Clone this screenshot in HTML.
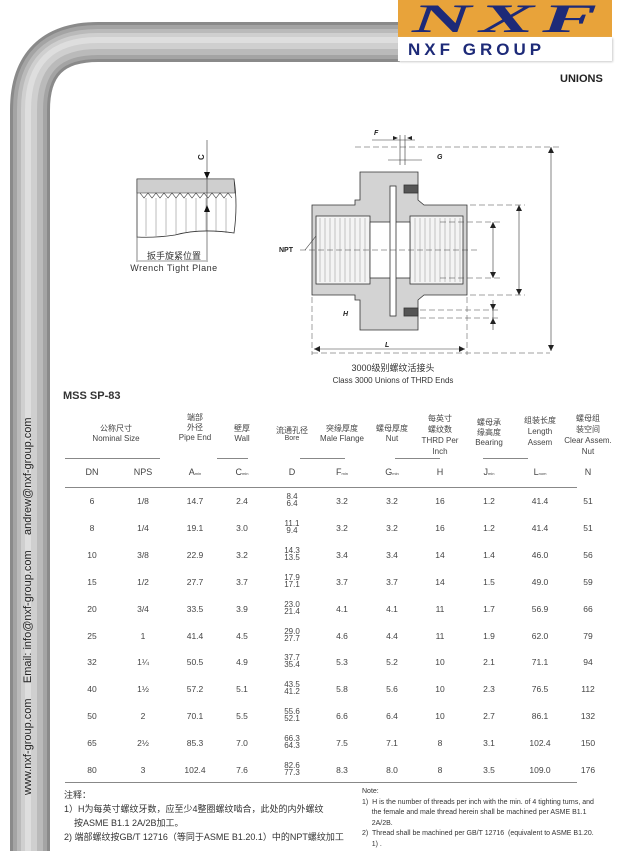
<!DOCTYPE html>
<html><head><meta charset="utf-8">
<style>
*{margin:0;padding:0}
body{width:633px;height:851px;position:relative;background:#fff;overflow:hidden;font-family:"Liberation Sans","Noto Sans CJK SC",sans-serif;color:#333}
.a{position:absolute;white-space:nowrap}
.c{position:absolute;white-space:nowrap;transform:translateX(-50%);text-align:center}
.hd{font-size:8px;line-height:10px;color:#444}
.cell{font-size:8.5px;color:#444}
.dd{font-size:8px;line-height:7px;color:#444}
.hl{position:absolute;height:1px;background:#888}
sub{font-size:4px;vertical-align:baseline}
</style></head><body>
<svg class="a" style="left:0;top:0" width="633" height="851">
<g fill="none">
<path d="M30 851 L30 110 Q30 42 98 42 L400 42" stroke="#8a8a8a" stroke-width="40"/>
<path d="M30 851 L30 110 Q30 42 98 42 L400 42" stroke="#a4a4a4" stroke-width="34"/>
<path d="M30 851 L30 110 Q30 42 98 42 L400 42" stroke="#bababa" stroke-width="26"/>
<path d="M29 851 L29 110 Q29 41 98 41 L400 41" stroke="#cfcfcf" stroke-width="16"/>
<path d="M28 851 L28 110 Q28 40 98 40 L400 40" stroke="#dedede" stroke-width="6"/>
</g>
<path d="M137 179 L234 179 Q238 205 234 233 Q200 228 175 235 Q155 238 137 237 Z" fill="#fff" stroke="#333" stroke-width="0.8"/>
<path d="M137 179 L234 179 L235 193 L137 193 Z" fill="#cfcfcf" stroke="#333" stroke-width="0.6"/>
<path d="M140 193 l4 5 4 -5 4 5 4 -5 4 5 4 -5 4 5 4 -5 4 5 4 -5 4 5 4 -5 4 5 4 -5 4 5 4 -5 4 5 4 -5 4 5 4 -5 4 5 4 -5 4 5" fill="none" stroke="#333" stroke-width="0.6"/>
<g stroke="#555" stroke-width="0.4"><line x1="146" y1="198" x2="146" y2="236"/><line x1="156" y1="198" x2="156" y2="236"/><line x1="166" y1="198" x2="166" y2="235"/><line x1="176" y1="198" x2="176" y2="234"/><line x1="186" y1="198" x2="186" y2="232"/><line x1="196" y1="198" x2="196" y2="231"/><line x1="206" y1="198" x2="206" y2="231"/><line x1="216" y1="198" x2="216" y2="232"/><line x1="226" y1="198" x2="226" y2="233"/></g>
<line x1="207" y1="140" x2="207" y2="262" stroke="#333" stroke-width="0.6"/>
<line x1="137" y1="237" x2="137" y2="262" stroke="#333" stroke-width="0.6"/>
<path d="M204 172 L207 179 L210 172Z M204 212 L207 205 L210 212Z" fill="#111"/>
<line x1="138" y1="261" x2="206" y2="261" stroke="#333" stroke-width="0.6"/>
<text x="204" y="160" font-size="8" font-weight="bold" fill="#222" transform="rotate(-90 204 160)">C</text>
<g stroke="#333" stroke-width="0.8">
<path d="M312 205 L355 205 L355 200 L360 200 L360 172 L418 172 L418 200 L424 205 L467 205 L467 295 L424 295 L418 300 L418 330 L360 330 L360 300 L355 300 L355 295 L312 295 Z" fill="#d3d3d3"/>
<rect x="316" y="216" width="54" height="68" fill="#f4f4f4"/>
<rect x="410" y="216" width="53" height="68" fill="#f4f4f4"/>
<rect x="370" y="222" width="40" height="56" fill="#fff"/>
<rect x="390" y="186" width="6" height="130" fill="#fff"/>
<rect x="404" y="185" width="14" height="8" fill="#555"/>
<rect x="404" y="308" width="14" height="8" fill="#555"/>
</g>
<g stroke="#666" stroke-width="0.35">
<line x1="320" y1="218" x2="320" y2="282"/><line x1="325" y1="218" x2="325" y2="282"/><line x1="330" y1="218" x2="330" y2="282"/><line x1="335" y1="218" x2="335" y2="282"/><line x1="340" y1="218" x2="340" y2="282"/><line x1="345" y1="218" x2="345" y2="282"/><line x1="350" y1="218" x2="350" y2="282"/><line x1="355" y1="218" x2="355" y2="282"/><line x1="360" y1="218" x2="360" y2="282"/><line x1="365" y1="218" x2="365" y2="282"/>
<line x1="415" y1="218" x2="415" y2="282"/><line x1="420" y1="218" x2="420" y2="282"/><line x1="425" y1="218" x2="425" y2="282"/><line x1="430" y1="218" x2="430" y2="282"/><line x1="435" y1="218" x2="435" y2="282"/><line x1="440" y1="218" x2="440" y2="282"/><line x1="445" y1="218" x2="445" y2="282"/><line x1="450" y1="218" x2="450" y2="282"/><line x1="455" y1="218" x2="455" y2="282"/><line x1="460" y1="218" x2="460" y2="282"/>
</g>
<g stroke="#444" stroke-width="0.5" fill="none" stroke-dasharray="6 3">
<line x1="300" y1="250" x2="480" y2="250"/>
<line x1="355" y1="147" x2="560" y2="147"/>
<line x1="312" y1="297" x2="312" y2="355"/>
<line x1="467" y1="297" x2="467" y2="355"/>
<line x1="470" y1="205" x2="525" y2="205"/><line x1="470" y1="295" x2="525" y2="295"/>
<line x1="440" y1="222" x2="500" y2="222"/><line x1="440" y1="278" x2="500" y2="278"/>
<line x1="420" y1="310" x2="500" y2="310"/><line x1="420" y1="318" x2="500" y2="318"/>
<line x1="312" y1="353" x2="550" y2="353"/>
</g>
<g stroke="#333" stroke-width="0.6">
<line x1="400" y1="135" x2="400" y2="165"/><line x1="405" y1="135" x2="405" y2="165"/>
<line x1="388" y1="160" x2="422" y2="160"/><line x1="372" y1="140" x2="415" y2="140"/>
<line x1="493" y1="222" x2="493" y2="278"/><line x1="519" y1="205" x2="519" y2="295"/>
<line x1="551" y1="147" x2="551" y2="351"/><line x1="493" y1="300" x2="493" y2="330"/>
<line x1="314" y1="349" x2="465" y2="349"/><line x1="305" y1="250" x2="316" y2="236"/>
</g>
<path d="M398 138 l-5 -2 0 4Z M407 138 l5 -2 0 4Z M548 153 L551 147 L554 153Z M548 345 L551 351 L554 345Z M490 228 L493 222 L496 228Z M490 272 L493 278 L496 272Z M516 211 L519 205 L522 211Z M516 289 L519 295 L522 289Z M320 346 L314 349 L320 352Z M459 346 L465 349 L459 352Z M490 304 l3 6 3 -6Z M490 324 l3 -6 3 6Z" fill="#222"/>
<g font-size="7" font-weight="bold" font-style="italic" fill="#222">
<text x="374" y="135">F</text><text x="437" y="159">G</text><text x="343" y="316">H</text><text x="385" y="347">L</text>
<text x="279" y="252" font-style="normal">NPT</text>
</g>
</svg>
<div class="a" style="left:22px;top:795px;transform:rotate(-90deg);transform-origin:0 0;font-size:11px;line-height:13px;color:#222">www.nxf-group.com&nbsp;&nbsp;&nbsp;&nbsp;&nbsp;Email: info@nxf-group.com&nbsp;&nbsp;&nbsp;&nbsp;&nbsp;andrew@nxf-group.com</div>
<div class="a" style="left:398px;top:0;width:214px;height:37px;background:#e8a33a;overflow:hidden"><div class="a" style="left:14px;top:0;font-family:'Liberation Serif',serif;font-size:40px;font-weight:bold;font-style:italic;color:#1d2a78;letter-spacing:4px;line-height:37px;transform:scaleX(2.05);transform-origin:0 0">NXF</div></div>
<div class="a" style="left:398px;top:37px;width:214px;height:24px;background:#fff;box-shadow:1px 1px 2px #ccc"></div>
<div class="a" style="left:408px;top:40px;font-size:17px;font-weight:bold;color:#1d2a78;letter-spacing:4px">NXF GROUP</div>
<div class="a" style="left:560px;top:73px;font-size:11px;font-weight:bold;color:#222">UNIONS</div>
<div class="c" style="left:174px;top:250px;font-size:9px;color:#333;line-height:12px">扳手旋紧位置<br><span style="letter-spacing:.5px">Wrench Tight Plane</span></div>
<div class="c" style="left:393px;top:362px;font-size:9px;color:#333;line-height:12px">3000级别螺纹活接头<br><span style="font-size:8px">Class 3000 Unions of THRD Ends</span></div>
<div class="a" style="left:63px;top:390px;font-size:11px;font-weight:bold;color:#333">MSS SP-83</div>
<div class="c hd" style="left:116px;top:424px">公称尺寸<br>Nominal Size</div>
<div class="c hd" style="left:195px;top:413px">端部<br>外径<br>Pipe End</div>
<div class="c hd" style="left:242px;top:424px">壁厚<br>Wall</div>
<div class="c hd" style="left:292px;top:426px">流通孔径</div><div class="c hd" style="left:292px;top:434px;font-size:7px">Bore</div>
<div class="c hd" style="left:342px;top:424px">突缘厚度<br>Male Flange</div>
<div class="c hd" style="left:392px;top:424px">螺母厚度<br>Nut</div>
<div class="c hd" style="left:440px;top:413px;line-height:11px">每英寸<br>螺纹数<br>THRD Per<br>Inch</div>
<div class="c hd" style="left:489px;top:418px">螺母承<br>缘高度<br>Bearing</div>
<div class="c hd" style="left:540px;top:415px;line-height:11px">组装长度<br>Length<br>Assem</div>
<div class="c hd" style="left:588px;top:413px;line-height:11px">螺母组<br>装空间<br>Clear Assem.<br>Nut</div>
<div class="hl" style="left:65px;top:458px;width:95px"></div>
<div class="hl" style="left:217px;top:458px;width:31px"></div>
<div class="hl" style="left:300px;top:458px;width:45px"></div>
<div class="hl" style="left:395px;top:458px;width:45px"></div>
<div class="hl" style="left:483px;top:458px;width:45px"></div>
<div class="hl" style="left:65px;top:487px;width:512px"></div>
<div class="hl" style="left:65px;top:782px;width:512px"></div>
<div id="t"></div>
<div class="a" style="left:64px;top:788px;font-size:9px;line-height:14px;color:#333">注释：<br>1）H为每英寸螺纹牙数，应至少4整圈螺纹啮合，此处的内外螺纹<br>&nbsp;&nbsp;&nbsp;&nbsp;按ASME B1.1 2A/2B加工。<br>2) 端部螺纹按GB/T 12716（等同于ASME B1.20.1）中的NPT螺纹加工</div>
<div class="a" style="left:362px;top:787px;font-size:7px;line-height:10.5px;color:#333">Note:<br>1)&nbsp; H is the number of threads per inch with the min. of 4 tighting turns, and<br>&nbsp;&nbsp;&nbsp;&nbsp; the female and male thread herein shall be machined per ASME B1.1<br>&nbsp;&nbsp;&nbsp;&nbsp; 2A/2B.<br>2)&nbsp; Thread shall be machined per GB/T 12716&nbsp; (equivalent to ASME B1.20.<br>&nbsp;&nbsp;&nbsp;&nbsp; 1) .</div>
<script>
var xs=[92,143,195,242,292,342,392,440,489,540,588];
var hdr=['DN','NPS','A<sub>min</sub>','C<sub>min</sub>','D','F<sub>min</sub>','G<sub>min</sub>','H','J<sub>min</sub>','L<sub>nom</sub>','N'];
var h='';
hdr.forEach(function(s,i){h+='<div class="c cell" style="left:'+xs[i]+'px;top:467px;font-size:9px">'+s+'</div>';});
var rows=[[6,'1/8',14.7,2.4,'8.4','6.4',3.2,3.2,16,1.2,41.4,51],[8,'1/4',19.1,'3.0','11.1','9.4',3.2,3.2,16,1.2,41.4,51],[10,'3/8',22.9,3.2,'14.3','13.5',3.4,3.4,14,1.4,'46.0',56],[15,'1/2',27.7,3.7,'17.9','17.1',3.7,3.7,14,1.5,'49.0',59],[20,'3/4',33.5,3.9,'23.0','21.4',4.1,4.1,11,1.7,56.9,66],[25,'1',41.4,4.5,'29.0','27.7',4.6,4.4,11,1.9,'62.0',79],[32,'1¼',50.5,4.9,'37.7','35.4',5.3,5.2,10,2.1,71.1,94],[40,'1½',57.2,5.1,'43.5','41.2',5.8,5.6,10,2.3,76.5,112],[50,'2',70.1,5.5,'55.6','52.1',6.6,6.4,10,2.7,86.1,132],[65,'2½',85.3,'7.0','66.3','64.3',7.5,7.1,8,3.1,102.4,150],[80,'3',102.4,7.6,'82.6','77.3',8.3,'8.0',8,3.5,'109.0',176]];
var ys=[501,528,555,582,609,636,662,689,716,743,770];
rows.forEach(function(r,k){var y=ys[k];var v=[r[0],r[1],r[2],r[3],null,r[6],r[7],r[8],r[9],r[10],r[11]];
v.forEach(function(s,i){if(s===null){h+='<div class="c dd" style="left:292px;top:'+(y-8)+'px">'+r[4]+'<br>'+r[5]+'</div>';}else h+='<div class="c cell" style="left:'+xs[i]+'px;top:'+(y-5)+'px">'+s+'</div>';});});
document.getElementById('t').innerHTML=h;
</script>
</body></html>
